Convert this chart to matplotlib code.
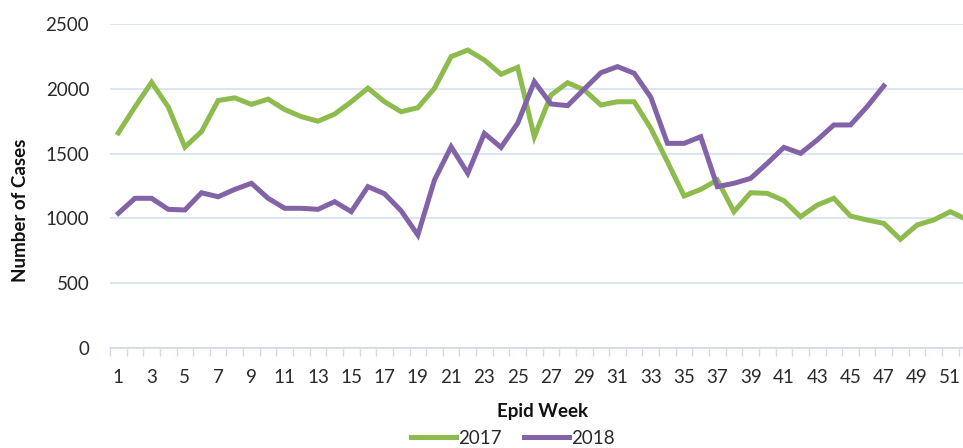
import matplotlib
matplotlib.use("Agg")
import matplotlib.pyplot as plt
from matplotlib.ticker import FixedLocator

weeks_2017 = list(range(1, 53))
cases_2017 = [1660, 1860, 2050, 1860, 1550, 1670, 1910, 1930, 1880, 1920,
              1840, 1785, 1750, 1805, 1900, 2005, 1900, 1823, 1854, 2004,
              2248, 2299, 2222, 2112, 2166, 1630, 1952, 2047, 1991, 1875,
              1900, 1900, 1695, 1437, 1173, 1224, 1296, 1052, 1198, 1193,
              1137, 1013, 1103, 1155, 1018, 988, 962, 839, 949, 988,
              1052, 990]
weeks_2018 = list(range(1, 48))
cases_2018 = [1039, 1155, 1155, 1070, 1065, 1198, 1167, 1224, 1271, 1155,
              1078, 1078, 1070, 1129, 1052, 1245, 1190, 1058, 872, 1296,
              1553, 1348, 1656, 1548, 1734, 2055, 1883, 1870, 1998, 2124,
              2171, 2120, 1935, 1579, 1579, 1630, 1245, 1271, 1309, 1425,
              1548, 1502, 1605, 1721, 1721, 1862, 2022]
series_labels = ["2017", "2018"]
y_ticks = [0, 500, 1000, 1500, 2000, 2500]
x_tick_labels = list(range(1, 52, 2))

plt.rcParams['font.family'] = ['Lato', 'DejaVu Sans']

W, H = 963, 448
fig = plt.figure(figsize=(W / 100, H / 100), dpi=100)
px = 16.64
ax = fig.add_axes([110 / W, 100 / H, 853 / W, 324 / H])
ax.set_xlim(0.5, 0.5 + 853 / px)
ax.set_ylim(0, 2500)

green = '#8DBB4E'
purple = '#8263A8'
ax.plot(weeks_2017, cases_2017, color=green, lw=3.6, label=series_labels[0],
        solid_joinstyle='miter', clip_on=False)
ax.plot(weeks_2018, cases_2018, color=purple, lw=3.6, label=series_labels[1],
        solid_joinstyle='miter')

grid_c = '#DCE6F2'
ax.set_yticks(y_ticks)
ax.yaxis.grid(True, color=grid_c, lw=1.4)
ax.set_axisbelow(True)
for s in ['top', 'right', 'left']:
    ax.spines[s].set_visible(False)
ax.spines['bottom'].set_color('#D0DAE8')
ax.spines['bottom'].set_linewidth(1.2)

txt_c = '#2a2a2a'
ax.xaxis.set_major_locator(FixedLocator(x_tick_labels))
ax.set_xticklabels([str(v) for v in x_tick_labels])
ax.xaxis.set_minor_locator(FixedLocator([w + 0.5 for w in range(0, 53)]))
ax.tick_params(axis='x', which='major', length=0, pad=15, labelsize=13.5, colors=txt_c)
ax.tick_params(axis='x', which='minor', length=6, color='#D0DAE8', width=1)
ax.tick_params(axis='y', length=0, pad=15, labelsize=13.5, colors=txt_c)

fig.text(20 / W, 1 - 210 / H, 'Number of Cases', rotation=90, ha='center', va='center',
         fontsize=13.5, fontweight='bold', color='#111111')
fig.text(543 / W, 1 - 412 / H, 'Epid Week', ha='center', va='center',
         fontsize=13.5, fontweight='bold', color='#111111')

leg = fig.legend(loc='center', bbox_to_anchor=(513 / W, 1 - 438 / H), ncol=2,
                 frameon=False, fontsize=13.5, handlelength=2.4, handletextpad=0.1,
                 columnspacing=1.2, borderpad=0)
for t in leg.get_texts():
    t.set_color(txt_c)

fig.savefig('out.png', dpi=100)
